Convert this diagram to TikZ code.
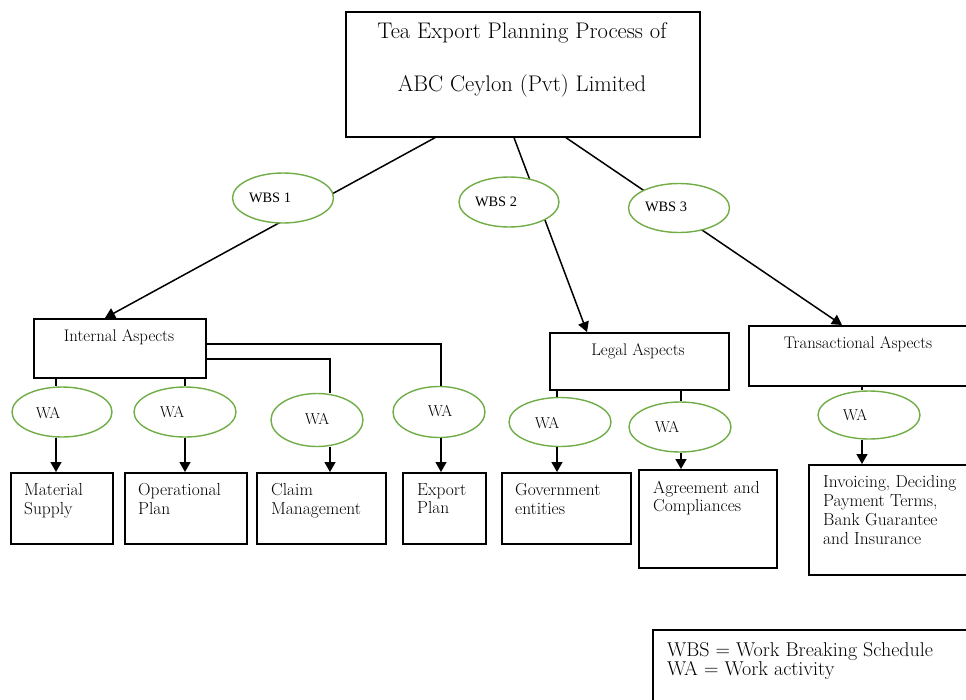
\documentclass[tikz,border=0pt]{standalone}
\usepackage{fontspec}
\newfontfamily\timesf{Liberation Serif}
\usetikzlibrary{arrows.meta,shapes.geometric,calc}
\definecolor{wagreen}{RGB}{112,173,71}
\tikzset{
  box/.style={draw=black, line width=1.7pt, fill=white, inner sep=0pt, anchor=north west},
  oval/.style={ellipse, draw=wagreen, line width=1.4pt, fill=white, inner sep=0pt},
  conn/.style={line width=1.5pt},
  arr/.style={conn, -{Triangle[length=10pt,width=11pt]}},
  headtxt/.style={font=\fontsize{22.6}{26}\selectfont, inner sep=0pt},
  aspecttxt/.style={font=\fontsize{16.8}{19}\selectfont, inner sep=0pt},
  boxtxt/.style={font=\fontsize{17.4}{18.8}\selectfont, align=left, anchor=north west, inner sep=0pt},
  watxt/.style={font=\fontsize{15.8}{17}\selectfont, inner sep=0pt},
  wbstxt/.style={font=\timesf\fontsize{14.4}{16}\selectfont, inner sep=0pt},
  legtxt/.style={font=\fontsize{20}{18.5}\selectfont, align=left, anchor=north west, inner sep=0pt},
}
\begin{document}
\begin{tikzpicture}[x=1pt,y=-1pt]
\useasboundingbox (0,0) rectangle (966,699);
\clip (0,0) rectangle (966,699);

% main boxes
\node[box, minimum width=354pt, minimum height=125pt] (title) at (345,11) {};
\node[headtxt] (t1) at (522,33) {Tea Export Planning Process of};
\node[headtxt] (t2) at (522,86) {ABC Ceylon (Pvt) Limited};

\node[box, minimum width=172pt, minimum height=59pt] (ia) at (33,318) {};
\node[aspecttxt] (iat) at (119,337) {Internal Aspects};
\node[box, minimum width=179pt, minimum height=57pt] (la) at (549,332) {};
\node[aspecttxt] (lat) at (638,351) {Legal Aspects};
\node[box, minimum width=232pt, minimum height=60pt] (ta) at (748,325) {};
\node[aspecttxt] (tat) at (858,344) {Transactional Aspects};

% bottom boxes
\node[box, minimum width=102pt, minimum height=71pt] (ms) at (10,472) {};
\node[boxtxt] (mst) at (24,483) {Material\\Supply};
\node[box, minimum width=122pt, minimum height=71pt] (op) at (124,472) {};
\node[boxtxt] (opt) at (138,483) {Operational\\Plan};
\node[box, minimum width=129pt, minimum height=71pt] (cm) at (256,472) {};
\node[boxtxt] (cmt) at (271,483) {Claim\\Management};
\node[box, minimum width=83pt, minimum height=71pt] (ep) at (402,472) {};
\node[boxtxt] (ept) at (417,483) {Export\\Plan};
\node[box, minimum width=129pt, minimum height=71pt] (ge) at (501,472) {};
\node[boxtxt] (get) at (515,483.5) {Government\\entities};
\node[box, minimum width=138pt, minimum height=98pt] (ag) at (638,469) {};
\node[boxtxt] (agt) at (653,480.5) {Agreement and\\Compliances};
\node[box, minimum width=172pt, minimum height=110pt] (inv) at (808,464) {};
\node[boxtxt] (invt) at (823,475.5) {Invoicing, Deciding\\Payment Terms,\\Bank Guarantee\\and Insurance};

% legend
\node[box, minimum width=400pt, minimum height=120pt] (leg) at (652,629) {};
\node[legtxt] (legt) at (667,642.5) {WBS = Work Breaking Schedule\\WA = Work activity};

% WBS connectors
\draw[arr] ([xshift=90pt]title.south west) -- ([xshift=72pt]ia.north west);
\draw[arr] ([xshift=169pt]title.south west) -- ([xshift=38pt]la.north west);
\draw[arr] ([xshift=221pt]title.south west) -- ([xshift=94pt]ta.north west);

% WBS ellipses
\node[oval, minimum width=101pt, minimum height=50pt] (wbs1) at (283,198) {};
\node[wbstxt] (wbs1t) at (270,198) {WBS 1};
\node[oval, minimum width=100pt, minimum height=50pt] (wbs2) at (509,202) {};
\node[wbstxt] (wbs2t) at (496,202) {WBS 2};
\node[oval, minimum width=101pt, minimum height=49pt] (wbs3) at (679,208) {};
\node[wbstxt] (wbs3t) at (666,207) {WBS 3};

% WA ellipses
\node[oval, minimum width=100pt, minimum height=50pt] (wa1) at (62,412) {};
\node[watxt] (wa1t) at (48,413) {WA};
\node[oval, minimum width=102pt, minimum height=50pt] (wa2) at (185,412) {};
\node[watxt] (wa2t) at (172,412) {WA};
\node[oval, minimum width=92pt, minimum height=53pt] (wa3) at (317,420) {};
\node[watxt] (wa3t) at (317,419) {WA};
\node[oval, minimum width=92pt, minimum height=51pt] (wa4) at (439,412) {};
\node[watxt] (wa4t) at (440,411) {WA};
\node[oval, minimum width=102pt, minimum height=49pt] (wa5) at (560,422) {};
\node[watxt] (wa5t) at (547,423) {WA};
\node[oval, minimum width=102pt, minimum height=50pt] (wa6) at (680,427) {};
\node[watxt] (wa6t) at (667,427) {WA};
\node[oval, minimum width=102pt, minimum height=48pt] (wa7) at (869,415) {};
\node[watxt] (wa7t) at (855,415) {WA};

% WA connectors
\draw[conn] ([xshift=23pt]ia.south west) -- ([xshift=-6pt]wa1.north);
\draw[arr] ([xshift=-6pt]wa1.south) -- ([xshift=46pt]ms.north west);
\draw[conn] ([xshift=152pt]ia.south west) -- (wa2.north);
\draw[arr] (wa2.south) -- ([xshift=61pt]op.north west);
\draw[conn] ([yshift=-41pt]ia.north east) -| ([xshift=13pt]wa3.north);
\draw[arr] ([xshift=13pt]wa3.south) -- ([xshift=74pt]cm.north west);
\draw[conn] ([yshift=-26pt]ia.north east) -| ([xshift=2pt]wa4.north);
\draw[arr] ([xshift=2pt]wa4.south) -- ([xshift=39pt]ep.north west);
\draw[conn] ([xshift=8pt]la.south west) -- ([xshift=-3pt]wa5.north);
\draw[arr] ([xshift=-3pt]wa5.south) -- ([xshift=56pt]ge.north west);
\draw[conn] ([xshift=132pt]la.south west) -- ([xshift=1pt]wa6.north);
\draw[arr] ([xshift=1pt]wa6.south) -- ([xshift=43pt]ag.north west);
\draw[conn] ([xshift=114pt]ta.south west) -- ([xshift=-7pt]wa7.north);
\draw[arr] ([xshift=-7pt]wa7.south) -- ([xshift=54pt]inv.north west);
\end{tikzpicture}
\end{document}
